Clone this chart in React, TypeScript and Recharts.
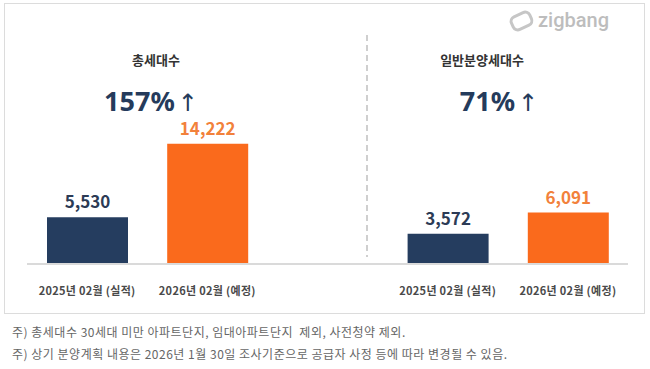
import React from 'react';
import { BarChart, Bar, XAxis, YAxis, Cell } from 'recharts';

const groupTitles = ['총세대수', '일반분양세대수'];
const growthRates = ['157%', '71%'];
const periods = ['2025년 02월 (실적)', '2026년 02월 (예정)'];
const totalUnits = [5530, 14222];
const generalUnits = [3572, 6091];
const footnotes = [
  '주) 총세대수 30세대 미만 아파트단지, 임대아파트단지  제외, 사전청약 제외.',
  '주) 상기 분양계획 내용은 2026년 1월 30일 조사기준으로 공급자 사정 등에 따라 변경될 수 있음.',
];

const NAVY = '#253d5f';
const ORANGE = '#fa6a1c';
const NAVY_TEXT = '#2c3b55';
const ORANGE_TEXT = '#f2813b';
const FONT = '"Noto Sans CJK KR", "Noto Sans", sans-serif';

const data = [
  { key: 'a0', label: periods[0], value: totalUnits[0], p: 0 },
  { key: 'a1', label: periods[1], value: totalUnits[1], p: 1 },
  { key: 'gap', label: '', value: null, p: -1 },
  { key: 'b0', label: periods[0], value: generalUnits[0], p: 0 },
  { key: 'b1', label: periods[1], value: generalUnits[1], p: 1 },
];

const Tick = (props: any) => {
  const { x, y, index } = props;
  const d = data[index];
  if (!d || !d.label) return null;
  return (
    <text x={x} y={y + 23} textAnchor="middle" fontSize={11} fontWeight={700} fill="#4a4a4a" fontFamily={FONT} letterSpacing={0.3}>
      {d.label}
    </text>
  );
};

const ValueLabel = (props: any) => {
  const { x, y, width, value } = props;
  if (value == null) return null;
  const d = data.find((r) => r.value === value);
  return (
    <text
      x={x + width / 2}
      y={y - 9}
      textAnchor="middle"
      fontSize={17}
      fontWeight={700}
      fill={d && d.p === 1 ? ORANGE_TEXT : NAVY_TEXT}
      fontFamily={FONT}
    >
      {Number(value).toLocaleString('en-US')}
    </text>
  );
};

const titleCenters = [156, 482];
const growthCenters = [151, 499];

export default function App() {
  return (
    <div style={{ position: 'absolute', left: 0, top: 0, width: 650, height: 369, background: '#fff', fontFamily: FONT }}>
      <div style={{ position: 'absolute', left: 4, top: 3, width: 639, height: 309, border: '1px solid #dcdcdc' }} />
      <BarChart
        width={650}
        height={369}
        data={data}
        margin={{ top: 95, right: 22, bottom: 75, left: 27 }}
        style={{ position: 'absolute', left: 0, top: 0 }}
      >
        <XAxis
          dataKey="key"
          axisLine={{ stroke: '#dadada', strokeWidth: 2 }}
          tickLine={false}
          tick={<Tick />}
          interval={0}
          height={30}
        />
        <YAxis hide domain={[0, 20000]} />
        <Bar dataKey="value" barSize={81} isAnimationActive={false} label={<ValueLabel />}>
          {data.map((d) => (
            <Cell key={d.key} fill={d.p === 1 ? ORANGE : NAVY} />
          ))}
        </Bar>
      </BarChart>
      <svg width={650} height={369} style={{ position: 'absolute', left: 0, top: 0, pointerEvents: 'none' }}>
        <line x1={367} x2={367} y1={35} y2={257} stroke="#b0b0b0" strokeWidth={1.2} strokeDasharray="6 4" />
        <g transform="translate(521.5 21) rotate(-25)">
          <rect x={-10} y={-7} width={20} height={14} rx={5} fill="none" stroke="#c6c6c6" strokeWidth={3} />
        </g>
        <text x={538} y={27} fontSize={20} fontWeight={500} fill="#bdbdbd" fontFamily="Roboto, Inter, sans-serif">
          zigbang
        </text>
      </svg>
      {groupTitles.map((t, i) => (
        <div
          key={t}
          style={{
            position: 'absolute',
            left: titleCenters[i] - 100,
            width: 200,
            top: 50,
            height: 20,
            lineHeight: '20px',
            textAlign: 'center',
            fontSize: 13,
            fontWeight: 700,
            color: '#333',
          }}
        >
          {t}
        </div>
      ))}
      {growthRates.map((g, i) => (
        <div
          key={g}
          style={{
            position: 'absolute',
            left: growthCenters[i] - 100,
            width: 200,
            top: 88,
            height: 26,
            lineHeight: '26px',
            textAlign: 'center',
            fontSize: 27,
            fontWeight: 700,
            color: '#253b5b',
            fontFamily: '"Noto Sans", sans-serif',
            whiteSpace: 'nowrap',
          }}
        >
          {g}
          <span style={{ fontFamily: '"DejaVu Sans", sans-serif', fontWeight: 400, fontSize: 24, lineHeight: 1, marginLeft: 3 }}>↑</span>
        </div>
      ))}
      {footnotes.map((f, i) => (
        <div
          key={i}
          style={{
            position: 'absolute',
            left: 12,
            top: 324 + i * 22,
            height: 16,
            lineHeight: '16px',
            fontSize: 12,
            letterSpacing: 0.5,
            color: '#666',
            whiteSpace: 'pre',
          }}
        >
          {f}
        </div>
      ))}
    </div>
  );
}
